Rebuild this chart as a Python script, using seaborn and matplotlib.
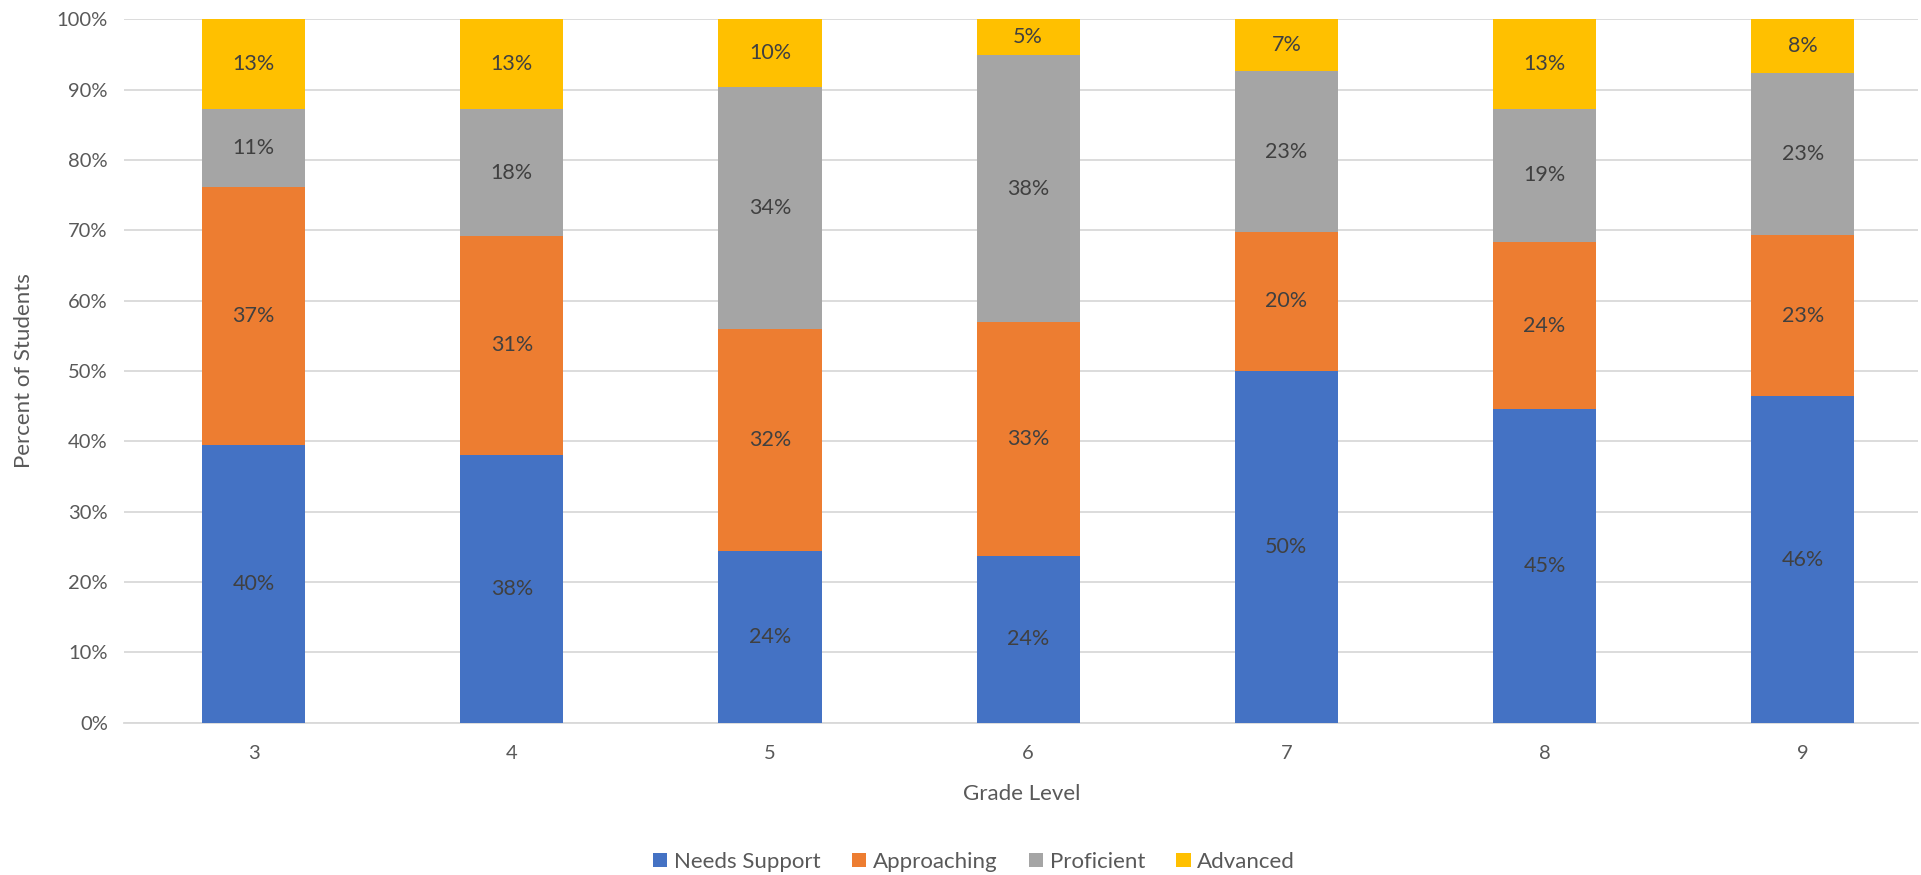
import numpy as np
import pandas as pd
import matplotlib
matplotlib.use('Agg')
import matplotlib.pyplot as plt
import seaborn as sns
from matplotlib.patches import Patch

# values (percent of students per grade)
grades = ['3', '4', '5', '6', '7', '8', '9']
levels = ['Needs Support', 'Approaching', 'Proficient', 'Advanced']
needs_support = [39.5, 38.1, 24.4, 23.7, 50.0, 44.6, 46.4]
approaching = [36.6, 31.1, 31.6, 33.2, 19.8, 23.7, 22.9]
proficient = [11.1, 18.0, 34.4, 38.0, 22.8, 19.0, 23.1]
advanced = [12.8, 12.8, 9.6, 5.1, 7.4, 12.7, 7.6]
colors = ['#4472C4', '#ED7D31', '#A5A5A5', '#FFC000']

sns.set_theme(style='white')
plt.rcParams['font.family'] = ['Lato', 'DejaVu Sans']

df = pd.DataFrame({'Grade': grades,
                   'Needs Support': needs_support,
                   'Approaching': approaching,
                   'Proficient': proficient,
                   'Advanced': advanced})
# cumulative tops of each segment
cum = df[levels].cumsum(axis=1)

fig = plt.figure(figsize=(19.21, 8.75), dpi=100)
ax = fig.add_axes([0.0648, 0.174, 0.9336, 0.804])

# draw tallest (cumulative) first so the lower segments overlay
for lvl, col in reversed(list(zip(levels, colors))):
    sns.barplot(x=df['Grade'], y=cum[lvl], color=col, width=0.4,
                saturation=1, ax=ax, zorder=3, linewidth=0)

# segment labels
text_col = '#404040'
for i in range(len(grades)):
    bottom = 0
    for lvl in levels:
        v = df[lvl][i]
        ax.text(i, bottom + v / 2, f'{v:.0f}%', ha='center', va='center',
                fontsize=15.5, color=text_col, zorder=5)
        bottom += v

ax.set_ylim(0, 100)
ax.set_xlim(-0.5, 6.446)
ax.set_yticks(np.arange(0, 101, 10))
ax.set_yticklabels([f'{t}%' for t in range(0, 101, 10)])
ax.yaxis.grid(True, color='#D9D9D9', linewidth=1.3, zorder=0)
ax.set_axisbelow(True)
for s in ['top', 'right', 'left']:
    ax.spines[s].set_visible(False)
ax.spines['bottom'].set_color('#D9D9D9')
ax.spines['bottom'].set_linewidth(1.3)
ax.tick_params(axis='both', length=0, labelsize=14.5, colors='#595959')
ax.tick_params(axis='x', pad=16)
ax.tick_params(axis='y', pad=12)

ax.set_xlabel('Grade Level', fontsize=16, color='#595959', labelpad=16)
ax.set_ylabel('Percent of Students', fontsize=16, color='#595959', labelpad=16)

handles = [Patch(facecolor=c, edgecolor='none') for c in colors]
fig.legend(handles, levels, loc='center', bbox_to_anchor=(0.507, 0.015),
           ncol=4, frameon=False, fontsize=16, labelcolor='#595959',
           handlelength=0.65, handleheight=0.65, handletextpad=0.3,
           columnspacing=1.4)

fig.savefig('out.png', dpi=100)
